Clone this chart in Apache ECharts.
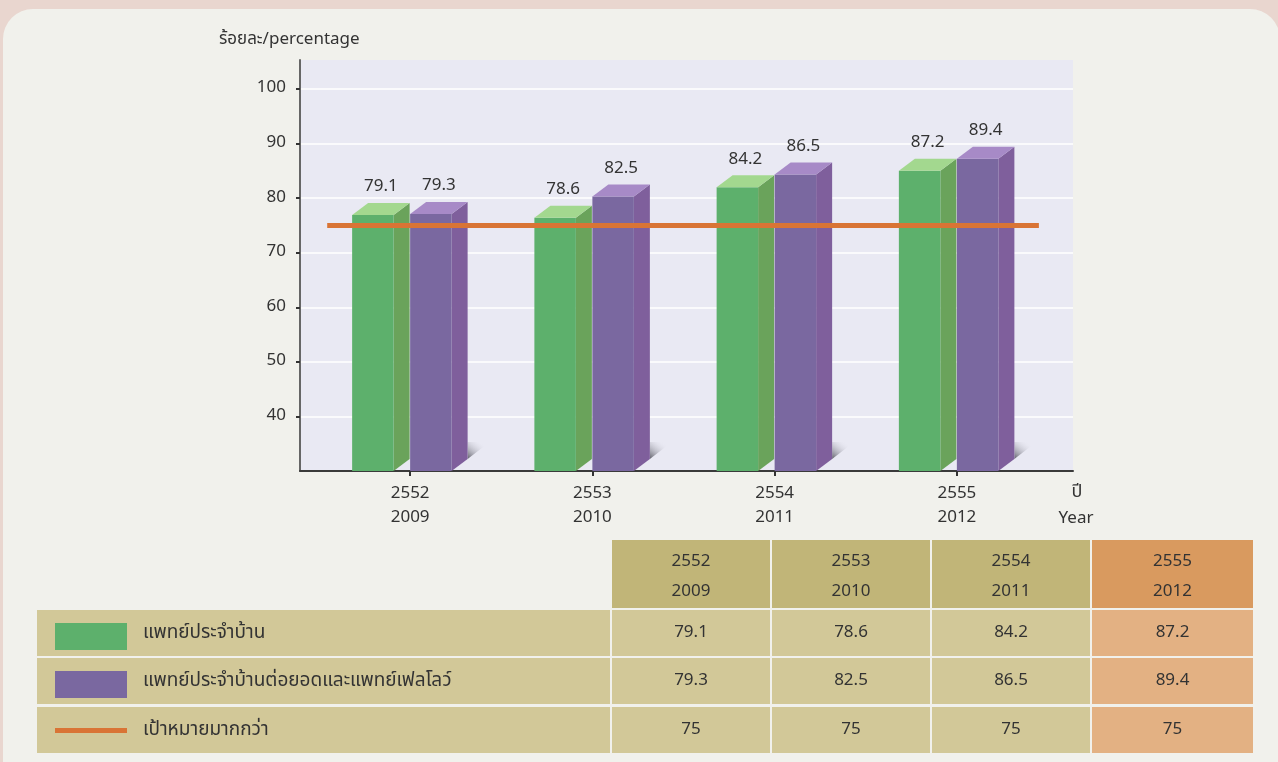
<!DOCTYPE html>
<html>
<head>
<meta charset="utf-8">
<script src="https://cdn.jsdelivr.net/npm/echarts@6/dist/echarts.min.js"></script>
<style>
  html, body { margin: 0; padding: 0; background: #e9d6cf; }
  #chart { width: 1278px; height: 762px; }
</style>
</head>
<body>
<div id="chart"></div>
<script>
// data
var yearsBE = ['2552', '2553', '2554', '2555'];
var yearsAD = ['2009', '2010', '2011', '2012'];
var residents = [79.1, 78.6, 84.2, 87.2];
var residentsFellows = [79.3, 82.5, 86.5, 89.4];
var target = [75, 75, 75, 75];
var seriesNames = ['แพทย์ประจำบ้าน', 'แพทย์ประจำบ้านต่อยอดและแพทย์เฟลโลว์', 'เป้าหมายมากกว่า'];
var yMin = 30, yMax = 105.3, yStep = 10;

var FONT = "'Noto Sans Thai', 'Noto Sans', 'DejaVu Sans', sans-serif";
var W = 41.5, DX = 16, DY = 12;
var green = { front: '#5db06c', side: '#6aa35b', top: '#a3d88f' };
var purple = { front: '#7a68a0', side: '#7f5f9c', top: '#a78ac7' };
var orange = '#d97435';

var myChart = echarts.init(document.getElementById('chart'));

// 3D-looking bar drawn from the axis coords
function bar3d(offset, c, shadow) {
    return function (params, api) {
        var i = api.value(0), v = api.value(1);
        var p = api.coord([i, v]);
        var base = api.coord([i, yMin])[1];
        var x0 = p[0] + offset, yb = p[1], yf = yb + DY;
        var kids = [];
        if (shadow) {
            kids.push({
                type: 'polygon',
                shape: { points: [[x0 + W + DX, base - DY], [x0 + W + DX + 22, base - DY - 17], [x0 + W + DX, base - DY - 17]] },
                style: { fill: new echarts.graphic.LinearGradient(0, 1, 0.6, 0, [
                    { offset: 0, color: 'rgba(70,70,80,0.85)' },
                    { offset: 1, color: 'rgba(233,233,243,0)' }
                ]) }
            });
        }
        kids.push({ type: 'polygon', shape: { points: [[x0 + W, yf], [x0 + W + DX, yb], [x0 + W + DX, base - DY], [x0 + W, base]] }, style: { fill: c.side } });
        kids.push({ type: 'rect', shape: { x: x0, y: yf, width: W, height: base - yf }, style: { fill: c.front } });
        kids.push({ type: 'polygon', shape: { points: [[x0, yf], [x0 + W, yf], [x0 + W + DX, yb], [x0 + DX, yb]] }, style: { fill: c.top } });
        kids.push({
            type: 'text',
            style: { text: v.toFixed(1), x: x0 + (W + DX) / 2, y: yb - 15, align: 'center', verticalAlign: 'middle',
                fontSize: 17, fontFamily: FONT, fill: '#333' }
        });
        return { type: 'group', children: kids };
    };
}

// target line, one segment per category (slightly overlapping so it reads as one line)
function targetLine(params, api) {
    var i = api.value(0), v = api.value(1);
    var p = api.coord([i, v]);
    var band = api.size([1, 0])[0];
    var n = params.dataInsideLength;
    var l = i === 0 ? p[0] - band * 0.455 : p[0] - band / 2 - 1;
    var r = i === n - 1 ? p[0] + band * 0.45 : p[0] + band / 2 + 1;
    return { type: 'line', shape: { x1: l, y1: p[1], x2: r, y2: p[1] }, style: { stroke: orange, lineWidth: 5 } };
}

// table under the chart
var colX = [612, 772, 932, 1092];
var colW = [158, 158, 158, 161];
var rowY = [610, 658, 707];
var rowH = [46, 46, 46];
var tableRows = [residents, residentsFellows, target];
var graphics = [
    { type: 'rect', z: -10, shape: { x: 3, y: 9, width: 1277, height: 800, r: 30 }, style: { fill: '#f1f1ec' } },
    { type: 'text', style: { text: 'ร้อยละ/percentage', x: 219, y: 41, verticalAlign: 'middle', fontSize: 17, fontFamily: FONT, fill: '#333' } },
    { type: 'text', style: { text: 'ปี', x: 1077, y: 493, align: 'center', verticalAlign: 'middle', fontSize: 18, fontFamily: FONT, fill: '#333' } },
    { type: 'text', style: { text: 'Year', x: 1076, y: 520, align: 'center', verticalAlign: 'middle', fontSize: 17, fontFamily: FONT, fill: '#333' } }
];
for (var c = 0; c < yearsBE.length; c++) {
    var last = c === yearsBE.length - 1;
    graphics.push({ type: 'rect', shape: { x: colX[c], y: 540, width: colW[c], height: 68 }, style: { fill: last ? '#d99a5f' : '#c1b578' } });
    graphics.push({ type: 'text', style: { text: yearsBE[c] + '\n' + yearsAD[c], x: colX[c] + colW[c] / 2, y: 578, align: 'center', verticalAlign: 'middle',
        lineHeight: 30, fontSize: 17, fontFamily: FONT, fill: '#333' } });
}
for (var r = 0; r < tableRows.length; r++) {
    graphics.push({ type: 'rect', shape: { x: 37, y: rowY[r], width: 573, height: rowH[r] }, style: { fill: '#d2c898' } });
    if (r < 2) {
        graphics.push({ type: 'rect', shape: { x: 55, y: rowY[r] + 13, width: 72, height: 27 }, style: { fill: r === 0 ? green.front : purple.front } });
    } else {
        graphics.push({ type: 'rect', shape: { x: 55, y: rowY[r] + 21, width: 72, height: 5 }, style: { fill: orange } });
    }
    graphics.push({ type: 'text', style: { text: seriesNames[r], x: 143, y: rowY[r] + rowH[r] / 2 + 1, verticalAlign: 'middle',
        fontSize: 19, fontFamily: FONT, fill: '#333' } });
    for (var c2 = 0; c2 < yearsBE.length; c2++) {
        var lastc = c2 === yearsBE.length - 1;
        graphics.push({ type: 'rect', shape: { x: colX[c2], y: rowY[r], width: colW[c2], height: rowH[r] }, style: { fill: lastc ? '#e3b183' : '#d2c898' } });
        graphics.push({ type: 'text', style: { text: String(tableRows[r][c2]), x: colX[c2] + colW[c2] / 2, y: rowY[r] + rowH[r] / 2 + 1,
            align: 'center', verticalAlign: 'middle', fontSize: 17, fontFamily: FONT, fill: '#333' } });
    }
}

var yCommon = { type: 'value', min: yMin, max: yMax, interval: yStep };

var option = {
    backgroundColor: '#e9d6cf',
    animation: false,
    textStyle: { fontFamily: FONT },
    graphic: graphics,
    grid: [
        { left: 300, right: 205, top: 60, bottom: 291, show: true, backgroundColor: '#e9e9f3', borderWidth: 0 },
        { left: 319, right: 230, top: 60, bottom: 291 }
    ],
    xAxis: [
        { gridIndex: 0, type: 'value', min: 0, max: 1, axisLine: { show: true, lineStyle: { color: '#3a3a3a', width: 2 } },
          axisTick: { show: false }, axisLabel: { show: false }, splitLine: { show: false } },
        { gridIndex: 1, type: 'category', data: yearsBE.map(function (y, i) { return y + '\n' + yearsAD[i]; }),
          axisLine: { show: false }, axisTick: { show: true, alignWithLabel: true, length: 5, lineStyle: { color: '#333', width: 2 } },
          axisLabel: { fontSize: 17, lineHeight: 24, margin: 12, color: '#333', fontFamily: FONT } }
    ],
    yAxis: [
        Object.assign({ gridIndex: 0,
          axisLine: { show: true, lineStyle: { color: '#666', width: 2 } },
          axisTick: { show: true, length: 4, lineStyle: { color: '#333', width: 2 } },
          axisLabel: { fontSize: 17, color: '#333', margin: 14, padding: [6, 0, 0, 0], showMinLabel: false, showMaxLabel: false, fontFamily: FONT },
          splitLine: { show: true, showMinLine: false, showMaxLine: false, lineStyle: { color: '#ffffff', width: 1.5 } } }, yCommon),
        Object.assign({ gridIndex: 1, show: false, splitLine: { show: false } }, yCommon)
    ],
    series: [
        { name: seriesNames[0], type: 'custom', xAxisIndex: 1, yAxisIndex: 1, renderItem: bar3d(-58, green, false),
          data: residents.map(function (v, i) { return [i, v]; }) },
        { name: seriesNames[1], type: 'custom', xAxisIndex: 1, yAxisIndex: 1, renderItem: bar3d(0, purple, true),
          data: residentsFellows.map(function (v, i) { return [i, v]; }) },
        { name: seriesNames[2], type: 'custom', xAxisIndex: 1, yAxisIndex: 1, renderItem: targetLine, z: 5,
          data: target.map(function (v, i) { return [i, v]; }) }
    ]
};
myChart.setOption(option);
</script>
</body>
</html>
